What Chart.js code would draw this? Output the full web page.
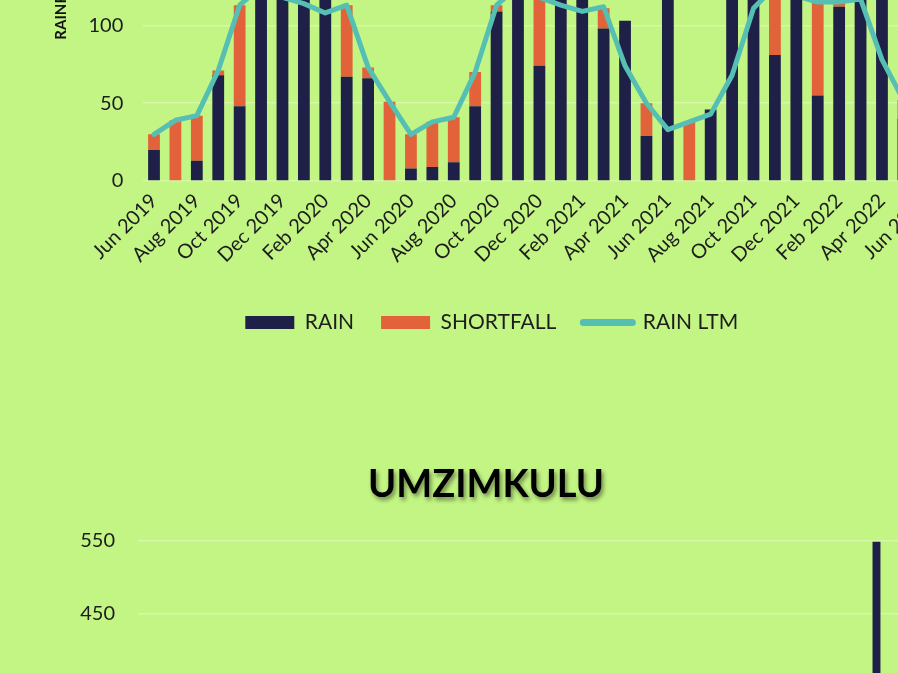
<!DOCTYPE html>
<html>
<head>
<meta charset="utf-8">
<title>Rainfall charts</title>
<script src="https://cdn.jsdelivr.net/npm/chart.js@4.4.1/dist/chart.umd.min.js"></script>
<style>
  html, body {
    margin: 0;
    padding: 0;
    background: #c3f584;
    width: 898px;
    height: 673px;
    overflow: hidden;
    position: relative;
  }
  canvas {
    position: absolute;
    left: 0;
  }
  #rainChart { top: -280px; }
  #umzChart { top: 440px; }
</style>
</head>
<body>
<canvas id="rainChart" width="972" height="640"></canvas>
<canvas id="umzChart" width="972" height="720"></canvas>

<script>
'use strict'

// Data (mm)
var months = ['Jun 2019', 'Jul 2019', 'Aug 2019', 'Sep 2019', 'Oct 2019', 'Nov 2019', 'Dec 2019',
  'Jan 2020', 'Feb 2020', 'Mar 2020', 'Apr 2020', 'May 2020', 'Jun 2020', 'Jul 2020', 'Aug 2020',
  'Sep 2020', 'Oct 2020', 'Nov 2020', 'Dec 2020', 'Jan 2021', 'Feb 2021', 'Mar 2021', 'Apr 2021',
  'May 2021', 'Jun 2021', 'Jul 2021', 'Aug 2021', 'Sep 2021', 'Oct 2021', 'Nov 2021', 'Dec 2021',
  'Jan 2022', 'Feb 2022', 'Mar 2022', 'Apr 2022', 'May 2022', 'Jun 2022'];

var rain      = [20, 0, 13, 68, 48, 160, 175, 150, 130, 67, 66, 0, 8, 9, 12,
  48, 109, 145, 74, 135, 140, 98, 103, 29, 160, 0, 46, 130, 145, 81, 160,
  55, 112, 140, 230, 40, 20];
var shortfall = [10, 39, 29, 3, 65, 0, 0, 0, 0, 46, 7, 51, 22, 29, 29,
  22, 4, 0, 44, 0, 0, 13, 0, 21, 0, 38, 0, 0, 0, 42, 0,
  60, 3, 0, 0, 12, 13];
var rainLtm   = [30, 39, 42, 71, 113, 125, 118, 114, 108, 113, 73, 51, 30, 38, 41,
  70, 113, 125, 118, 113, 109, 112, 74, 50, 33, 38, 43, 68, 111, 125, 119,
  115, 115, 117, 78, 52, 33];

var umzTitle = 'UMZIMKULU';
var umzRain      = [35, 12, 28, 60, 95, 140, 210, 180, 150, 120, 70, 20, 10, 18, 22,
  55, 130, 160, 110, 190, 170, 140, 95, 30, 120, 8, 40, 150, 175, 100, 200,
  90, 150, 180, 549, 50, 25];
var umzShortfall = [10, 30, 20, 15, 25, 0, 0, 0, 0, 0, 5, 30, 35, 24, 20,
  20, 0, 0, 50, 0, 0, 0, 0, 20, 0, 34, 2, 0, 0, 40, 0,
  45, 0, 0, 0, 0, 20];
var umzLtm       = [45, 42, 48, 75, 120, 140, 160, 150, 130, 115, 75, 50, 45, 42, 42,
  75, 120, 140, 160, 150, 130, 115, 75, 50, 45, 42, 42, 75, 120, 140, 160,
  135, 130, 115, 75, 50, 45];

// Colours
var navy = '#1f2047';
var orange = '#e2623a';
var teal = '#55bfb4';
var tickFont = { family: 'Lato', size: 20 };
var gridColour = 'rgba(255,255,255,0.3)';

Chart.defaults.font.family = 'Lato';
Chart.defaults.color = '#1d1d1d';

//------------------Shared dataset builder----------------------//
function buildDatasets(r, s, l, barPct) {
  return [{
    type: 'bar',
    label: 'RAIN',
    data: r,
    backgroundColor: navy,
    borderWidth: 0,
    stack: 'bars',
    order: 1,
    barPercentage: barPct,
    categoryPercentage: 1,
    pointStyle: 'rect'
  }, {
    type: 'bar',
    label: 'SHORTFALL',
    data: s,
    backgroundColor: orange,
    borderWidth: 0,
    stack: 'bars',
    order: 1,
    barPercentage: barPct,
    categoryPercentage: 1,
    pointStyle: 'rect'
  }, {
    type: 'line',
    label: 'RAIN LTM',
    data: l,
    borderColor: teal,
    backgroundColor: teal,
    borderWidth: 5,
    borderCapStyle: 'round',
    borderJoinStyle: 'round',
    tension: 0,
    pointRadius: 0,
    stack: 'line',
    order: 0,
    pointStyle: 'line'
  }];
}

function legendOptions() {
  return {
    position: 'bottom',
    labels: {
      usePointStyle: true,
      pointStyleWidth: 49,
      boxHeight: 13,
      padding: 27,
      color: '#1d1d1d',
      font: { family: 'Lato', size: 21 },
      sort: function(a, b) { return a.datasetIndex - b.datasetIndex; },
      // thicker swatch for the LTM line, like the original legend
      generateLabels: function(chart) {
        var items = Chart.defaults.plugins.legend.labels.generateLabels(chart);
        items.forEach(function(item) {
          if (item.pointStyle === 'line') {
            item.lineWidth = 7;
            item.lineCap = 'round';
          }
        });
        return items;
      }
    }
  };
}

function monthTicks() {
  return {
    autoSkip: false,
    maxRotation: 45,
    minRotation: 45,
    padding: 0,
    color: '#1d1d1d',
    font: tickFont,
    callback: function(val, i) {
      return i % 2 === 0 ? this.getLabelForValue(val) : '';
    }
  };
}

//------------------Top chart----------------------//
new Chart(document.getElementById('rainChart'), {
  data: {
    labels: months,
    datasets: buildDatasets(rain, shortfall, rainLtm, 0.55)
  },
  options: {
    responsive: false,
    animation: false,
    layout: { padding: { top: 72, left: 48, right: 36.5, bottom: 17 } },
    plugins: {
      legend: legendOptions(),
      tooltip: { enabled: false }
    },
    scales: {
      x: {
        stacked: true,
        grid: { display: false },
        border: { display: false },
        ticks: monthTicks(),
        afterFit: function(scale) { scale.height = 104; }
      },
      y: {
        stacked: true,
        min: 0,
        max: 250,
        ticks: { stepSize: 50, padding: 20, color: '#1d1d1d', font: tickFont },
        grid: { color: gridColour, lineWidth: 1.5, drawTicks: false },
        border: { display: false },
        title: {
          display: true,
          text: 'RAINFALL (mm)',
          color: '#111',
          font: { family: 'Lato', size: 15, weight: 'bold' }
        },
        afterFit: function(scale) { scale.width = 95.3; }
      }
    }
  }
});

//------------------Bottom chart title with shadow----------------------//
var shadowTitle = {
  id: 'shadowTitle',
  afterDraw: function(chart) {
    var ctx = chart.ctx;
    ctx.save();
    ctx.font = 'bold 38px Lato';
    ctx.fillStyle = '#000';
    ctx.textAlign = 'center';
    ctx.textBaseline = 'middle';
    ctx.shadowColor = 'rgba(0,0,0,0.45)';
    ctx.shadowOffsetX = 2;
    ctx.shadowOffsetY = 3;
    ctx.shadowBlur = 4;
    ctx.fillText(umzTitle, chart.width / 2, 45);
    ctx.restore();
  }
};

new Chart(document.getElementById('umzChart'), {
  data: {
    labels: months,
    datasets: buildDatasets(umzRain, umzShortfall, umzLtm, 0.37)
  },
  options: {
    responsive: false,
    animation: false,
    layout: { padding: { top: 101, left: 48, right: 42, bottom: 2 } },
    plugins: {
      legend: legendOptions(),
      tooltip: { enabled: false }
    },
    scales: {
      x: {
        stacked: true,
        grid: { display: false },
        border: { display: false },
        ticks: monthTicks(),
        afterFit: function(scale) { scale.height = 125; }
      },
      y: {
        stacked: true,
        min: -50,
        max: 550,
        ticks: { stepSize: 100, padding: 23, color: '#1d1d1d', font: tickFont },
        grid: { color: gridColour, lineWidth: 1.5, drawTicks: false },
        border: { display: false },
        afterFit: function(scale) { scale.width = 90; }
      }
    }
  },
  plugins: [shadowTitle]
});
</script>
</body>
</html>
